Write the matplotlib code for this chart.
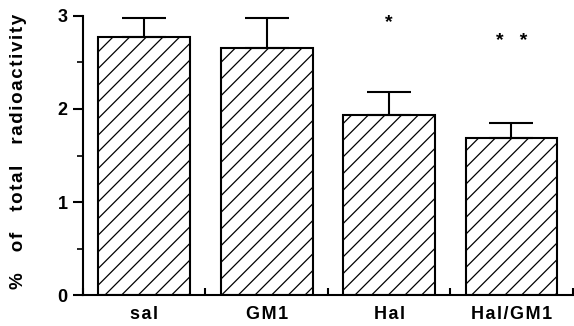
import matplotlib.pyplot as plt
from matplotlib.ticker import MultipleLocator, FixedLocator

groups = ["sal", "GM1", "Hal", "Hal/GM1"]
means = [2.77, 2.66, 1.94, 1.69]
errors = [0.21, 0.32, 0.24, 0.16]
stars = ["", "", "*", "* *"]
star_y = [0, 0, 2.93, 2.73]
ylabel_words = ["%", "of", "total", "radioactivity"]

plt.rcParams['font.family'] = ['Liberation Sans', 'DejaVu Sans']
plt.rcParams['font.weight'] = 'bold'
plt.rcParams['hatch.linewidth'] = 0.9

fig = plt.figure(figsize=(5.74, 3.26), dpi=100)
ax = fig.add_axes([0.1446, 0.095, 0.853, 0.856])

x = range(len(groups))
ax.bar(x, means, width=0.75, color='white', edgecolor='black',
       linewidth=1.5, hatch='//', zorder=2)
ax.errorbar(x, means, yerr=[[0] * 4, errors], fmt='none', ecolor='black',
            elinewidth=1.5, capsize=16, capthick=1.5, clip_on=False, zorder=3)
for i, s in enumerate(stars):
    if s:
        ax.text(i, star_y[i], s.replace(" ", "   "), ha='center', va='center',
                fontsize=14, fontweight='bold', clip_on=False)

ax.set_xlim(-0.5, 3.5)
ax.set_ylim(0, 3)
ax.spines['top'].set_visible(False)
ax.spines['right'].set_visible(False)
ax.spines['left'].set_linewidth(1.5)
ax.spines['bottom'].set_linewidth(1.5)

spaced = ["\u200a".join(g) for g in groups]
ax.set_xticks(list(x))
ax.set_xticklabels(spaced, fontsize=13, fontweight='bold')
ax.tick_params(axis='x', length=0, pad=8)
ax.xaxis.set_minor_locator(FixedLocator([-0.5, 0.5, 1.5, 2.5, 3.5]))
ax.tick_params(axis='x', which='minor', length=5, width=1.5, direction='in')

ax.yaxis.set_major_locator(MultipleLocator(1))
ax.yaxis.set_minor_locator(MultipleLocator(0.5))
ax.tick_params(axis='y', which='major', length=7, width=1.5, labelsize=13, pad=4)
ax.tick_params(axis='y', which='minor', length=4, width=1.2)

label = "    ".join("\u200a".join(w) for w in ylabel_words)
ax.set_ylabel(label, fontsize=13.5, fontweight='bold')
ax.yaxis.set_label_coords(-0.115, 0.515)

fig.savefig("out.png", dpi=100)
